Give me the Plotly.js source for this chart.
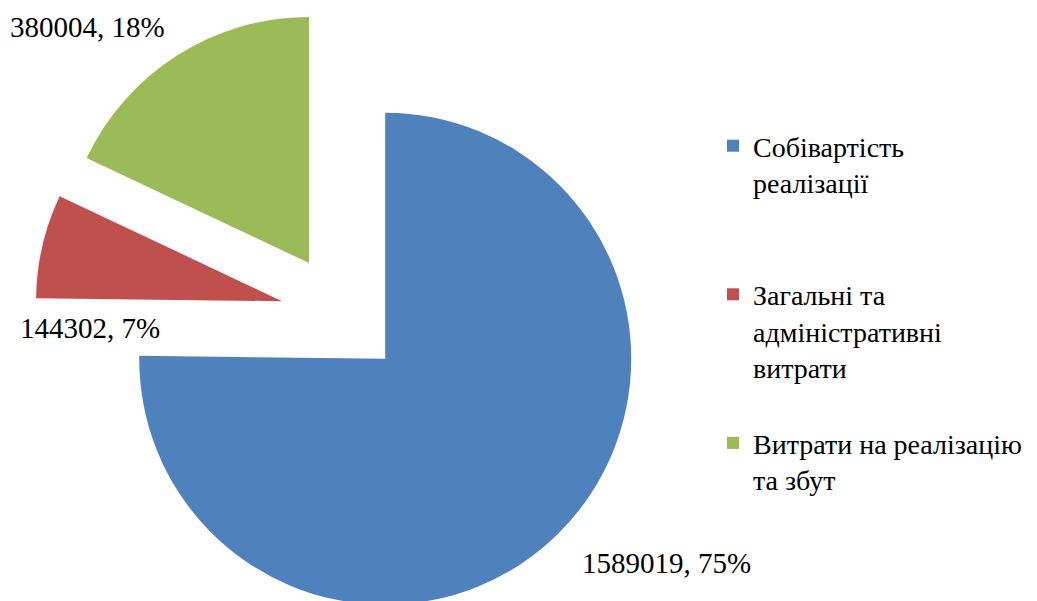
<!DOCTYPE html>
<html>
<head>
<meta charset="utf-8">
<script src="https://cdn.plot.ly/plotly-3.0.1.min.js"></script>
<style>
  html, body { margin: 0; padding: 0; overflow: hidden; background: #fff; }
  .dlabel {
    position: absolute;
    font-family: "Liberation Serif", "Times New Roman", serif;
    font-size: 29px;
    line-height: 29px;
    color: #000;
    white-space: nowrap;
  }
</style>
</head>
<body>
<div id="graph"></div>
<div id="labels"></div>
<script>
// chart data
var labels = ['Собівартість<br>реалізації<br> <br> ', 'Загальні та<br>адміністративні<br>витрати<br> ', 'Витрати на реалізацію<br>та збут'];
var values = [1589019, 144302, 380004];
var colors = ['#4F81BD', '#C0504D', '#9BBB59'];

var W = 1037, H = 630;
var total = values.reduce(function (a, b) { return a + b; }, 0);
var serif = 'Liberation Serif';

// where the data labels sit (left, top in pixels)
var labelPos = [[582, 549], [20, 314], [10, 13]];

var data = [{
  type: 'pie',
  labels: labels,
  values: values,
  marker: { colors: colors },
  sort: false,
  direction: 'clockwise',
  pull: [0.25, 0.25, 0.25],
  textinfo: 'none',
  domain: { x: [0, 684 / W], y: [7.5 / H, 622.5 / H] }
}];

var layout = {
  width: W,
  height: H,
  margin: { l: 0, r: 0, t: 0, b: 0 },
  font: { family: serif, size: 28, color: '#000' },
  legend: {
    x: 713 / W,
    y: 1 - 121 / H, yanchor: 'top',
    valign: 'top',
    font: { family: serif, size: 28, color: '#000' }
  }
};

Plotly.newPlot('graph', data, layout, { staticPlot: true }).then(function () {
  // data labels: value, share of total
  var box = document.getElementById('labels');
  values.forEach(function (v, i) {
    var d = document.createElement('div');
    d.className = 'dlabel';
    d.style.left = labelPos[i][0] + 'px';
    d.style.top = labelPos[i][1] + 'px';
    d.textContent = v + ', ' + Math.round(v / total * 100) + '%';
    box.appendChild(d);
  });
});
</script>
</body>
</html>
